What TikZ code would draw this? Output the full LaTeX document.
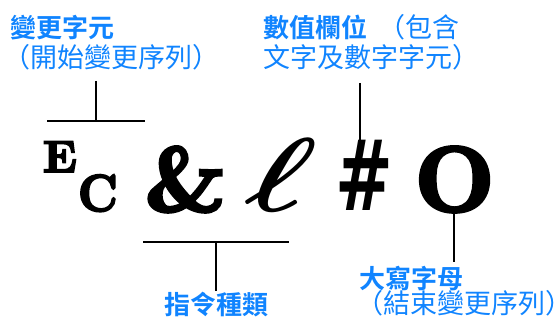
\documentclass[tikz,border=0pt]{standalone}
\usepackage{amsmath}
\usepackage{fontspec}
\newfontfamily\cjk{Noto Sans CJK TC}[BoldFont={Noto Sans CJK TC Bold}]
\newfontfamily\hashfont{DejaVu Sans}
\newfontfamily\heavyserif{lmroman10-bold.otf}[FakeBold=4]
\definecolor{labelblue}{RGB}{16,132,255}
\tikzset{
  lbl/.style={anchor=base west, inner sep=0pt, text=labelblue, font=\cjk\fontsize{27}{29}\selectfont},
  blbl/.style={lbl, font=\cjk\bfseries\fontsize{26}{29}\selectfont},
  glyph/.style={anchor=base west, inner sep=0pt, text=black, font=\heavyserif},
  conn/.style={draw=black, line width=2pt},
}
\begin{document}
\begin{tikzpicture}[x=1pt,y=-1pt]
\useasboundingbox (0,0) rectangle (555,320);
% labels
\node[blbl] (t1a) at (10,38) {變更字元};
\node[lbl] (t1b) at (3,68) {（開始變更序列）};
\node[lbl] (t2a) at (263,38) {\bfseries\fontsize{26}{29}\selectfont 數值欄位\hspace{11pt}\mdseries\fontsize{27}{29}\selectfont（包含};
\node[lbl] (t2b) at (263,68) {文字及數字字元）};
\node[blbl] (t3a) at (164,315) {指令種類};
\node[blbl] (t4a) at (359,289) {大寫字母};
\node[lbl] (t4b) at (356,314) {（結束變更序列\rlap{）}};
% glyphs
\node[glyph, scale=4.5] (gE) at (42,172) {E};
\node[glyph, xscale=4.8, yscale=5.2] (gC) at (77,211) {C};
\node[glyph, scale=9.1] (gamp) at (143,211) {\&};
\node[glyph, xscale=12, yscale=10.5, xslant=0.25, font=\bfseries] (gell) at (240,212) {$\boldsymbol{\ell}$};
\node[glyph, font=\hashfont\bfseries, xscale=6.9, yscale=9.8] (ghash) at (334,211) {\#};
\node[glyph, scale=9.2] (gO) at (413,211) {O};
% connectors
\coordinate (c1top) at (96,81);
\coordinate (c1mid) at (96,121);
\coordinate (c1l) at (47,121);
\coordinate (c1r) at (145,121);
\draw[conn] (c1top) -- (c1mid);
\draw[conn] (c1l) -- (c1r);
\coordinate (c2top) at (360,83);
\coordinate (c2bot) at (360,146);
\draw[conn] (c2top) -- (c2bot);
\coordinate (c3l) at (143,242);
\coordinate (c3r) at (289,242);
\coordinate (c3mid) at (216,242);
\coordinate (c3bot) at (216,291);
\draw[conn] (c3l) -- (c3r);
\draw[conn] (c3mid) -- (c3bot);
\coordinate (c4top) at (454,213);
\coordinate (c4bot) at (454,262);
\draw[conn] (c4top) -- (c4bot);
\end{tikzpicture}
\end{document}
